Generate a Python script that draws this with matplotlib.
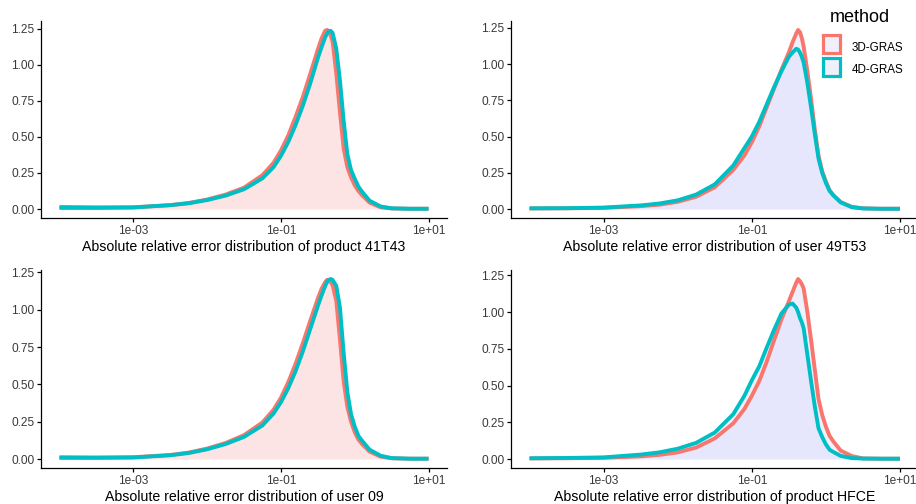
import numpy as np
import matplotlib
matplotlib.use("Agg")
import matplotlib.pyplot as plt
from matplotlib.patches import Rectangle
from matplotlib.ticker import FixedLocator, FixedFormatter, NullLocator

plt.rcParams['font.family'] = ['Liberation Sans', 'DejaVu Sans']

# ---------------- data (log10 of absolute relative error) ----------------
log_err = [-4.0, -3.5, -3.0, -2.5, -2.25, -2.0, -1.75, -1.5, -1.25, -1.1, -1.0,
           -0.9, -0.8, -0.7, -0.6, -0.5, -0.45, -0.4, -0.375, -0.35, -0.325,
           -0.3, -0.25, -0.2, -0.15, -0.1, -0.05, 0.0, 0.05, 0.1, 0.2, 0.35,
           0.5, 0.75, 1.0]

methods = ["3D-GRAS", "4D-GRAS"]

titles = ["Absolute relative error distribution of product 41T43",
          "Absolute relative error distribution of user 49T53",
          "Absolute relative error distribution of user 09",
          "Absolute relative error distribution of product HFCE"]

# product 41T43
p41_3d = [0.015, 0.012, 0.012, 0.027, 0.042, 0.066, 0.10, 0.148, 0.235, 0.32, 0.405,
          0.51, 0.64, 0.78, 0.94, 1.105, 1.18, 1.235, 1.24, 1.23, 1.20,
          1.16, 0.94, 0.67, 0.42, 0.29, 0.22, 0.165, 0.125, 0.095, 0.045, 0.012,
          0.004, 0.002, 0.002]
p41_4d = [0.008, 0.008, 0.011, 0.027, 0.040, 0.062, 0.093, 0.137, 0.213, 0.29, 0.368,
          0.465, 0.584, 0.72, 0.874, 1.045, 1.12, 1.19, 1.215, 1.232, 1.233,
          1.22, 1.11, 0.89, 0.61, 0.38, 0.27, 0.21, 0.155, 0.12, 0.058, 0.018,
          0.005, 0.002, 0.002]

# user 49T53
u49_3d = [0.004, 0.005, 0.008, 0.02, 0.03, 0.05, 0.085, 0.15, 0.27, 0.37, 0.46,
          0.57, 0.70, 0.83, 0.96, 1.08, 1.15, 1.21, 1.235, 1.22, 1.18,
          1.12, 0.95, 0.76, 0.55, 0.37, 0.26, 0.19, 0.13, 0.095, 0.048, 0.015,
          0.005, 0.002, 0.002]
u49_4d = [0.005, 0.006, 0.01, 0.025, 0.038, 0.06, 0.10, 0.17, 0.30, 0.42, 0.50,
          0.60, 0.72, 0.84, 0.95, 1.05, 1.08, 1.105, 1.10, 1.08, 1.05,
          1.01, 0.87, 0.70, 0.52, 0.35, 0.25, 0.18, 0.125, 0.095, 0.046, 0.013,
          0.004, 0.002, 0.002]

# user 09
u09_3d = [0.012, 0.01, 0.012, 0.027, 0.043, 0.07, 0.107, 0.16, 0.245, 0.33, 0.41,
          0.515, 0.64, 0.78, 0.93, 1.075, 1.14, 1.185, 1.20, 1.198, 1.185,
          1.165, 1.06, 0.80, 0.52, 0.35, 0.25, 0.18, 0.13, 0.10, 0.05, 0.016,
          0.005, 0.002, 0.002]
u09_4d = [0.008, 0.008, 0.01, 0.025, 0.04, 0.065, 0.10, 0.148, 0.225, 0.305, 0.38,
          0.475, 0.59, 0.725, 0.875, 1.025, 1.095, 1.16, 1.185, 1.20, 1.206,
          1.20, 1.16, 1.015, 0.71, 0.45, 0.30, 0.217, 0.155, 0.122, 0.063, 0.022,
          0.006, 0.002, 0.002]

# product HFCE
hf_3d = [0.004, 0.005, 0.008, 0.018, 0.028, 0.045, 0.078, 0.14, 0.243, 0.34, 0.43,
         0.53, 0.66, 0.807, 0.95, 1.073, 1.137, 1.20, 1.225, 1.21, 1.19,
         1.16, 1.0, 0.81, 0.61, 0.41, 0.30, 0.22, 0.157, 0.12, 0.057, 0.02,
         0.004, 0.002, 0.002]
hf_4d = [0.005, 0.007, 0.011, 0.03, 0.045, 0.07, 0.11, 0.18, 0.305, 0.43, 0.535,
         0.63, 0.756, 0.878, 0.99, 1.05, 1.058, 1.03, 1.0, 0.96, 0.93,
         0.89, 0.71, 0.53, 0.36, 0.21, 0.15, 0.10, 0.063, 0.048, 0.021, 0.006,
         0.003, 0.002, 0.002]

panel_data = [(p41_3d, p41_4d), (u49_3d, u49_4d), (u09_3d, u09_4d), (hf_3d, hf_4d)]

x_tick_vals = [1e-3, 1e-1, 1e1]
x_tick_labels = ["1e-03", "1e-01", "1e+01"]
y_tick_vals = [0.0, 0.25, 0.5, 0.75, 1.0, 1.25]
y_tick_labels = ["0.00", "0.25", "0.50", "0.75", "1.00", "1.25"]

# ---------------- style ----------------
W, H = 916, 504
line_cols = {"3D-GRAS": "#F8766D", "4D-GRAS": "#00BFC4"}
pink = (251/255, 208/255, 208/255)
lav = (212/255, 212/255, 250/255)
fill_cols = [pink, lav, pink, lav]
fill_alpha = 0.33
text_col = "#3A3A3A"

# axes rectangles in pixels: left, top, right, bottom
rects = [(41, 21, 447, 218), (511, 21, 918.5, 218),
         (41, 270, 447, 468), (511, 270, 918.5, 468)]

fig = plt.figure(figsize=(W/100, H/100), dpi=100)
fig.patch.set_facecolor("white")

x_vals = np.power(10.0, np.array(log_err))

for i, (l, t, r, b) in enumerate(rects):
    ax = fig.add_axes([l/W, 1 - b/H, (r-l)/W, (b-t)/H])
    series = panel_data[i]
    for m, ys in zip(methods, series):
        ax.fill_between(x_vals, 0, ys, color=fill_cols[i], alpha=fill_alpha, lw=0, zorder=1)
    for m, ys in zip(methods, series):
        ax.plot(x_vals, ys, color=line_cols[m], lw=2.8, solid_capstyle='butt',
                solid_joinstyle='round', zorder=3)
    ax.set_xscale('log')
    ax.set_xlim(10**-4.25, 10**1.25)
    M = max(max(series[0]), max(series[1]))
    ax.set_ylim(-0.05*M, 1.05*M)
    ax.xaxis.set_major_locator(FixedLocator(x_tick_vals))
    ax.xaxis.set_major_formatter(FixedFormatter(x_tick_labels))
    ax.xaxis.set_minor_locator(NullLocator())
    ax.yaxis.set_major_locator(FixedLocator(y_tick_vals))
    ax.yaxis.set_major_formatter(FixedFormatter(y_tick_labels))
    for s in ['top', 'right']:
        ax.spines[s].set_visible(False)
    for s in ['left', 'bottom']:
        ax.spines[s].set_color('black')
        ax.spines[s].set_linewidth(0.9)
    ax.tick_params(axis='both', which='major', direction='out', length=2.6, width=0.9,
                   color='black', labelcolor=text_col, labelsize=8.6, pad=2.2)
    ax.set_xlabel(titles[i], fontsize=10.2, color='black', labelpad=2.5)
    ax.set_facecolor('none')

# ---------------- legend ----------------
fig.text(830/W, 1 - 18/H, "method", fontsize=13, color='black', ha='left', va='center')
key_rows = [(35, 53, 48), (58, 76, 70)]
for m, (kt, kb, ty) in zip(methods, key_rows):
    fig.patches.append(Rectangle((823/W, 1 - kb/H), 17/W, (kb-kt)/H,
                                 transform=fig.transFigure, facecolor=(240/255, 240/255, 250/255),
                                 edgecolor=line_cols[m], linewidth=2.3))
    fig.text(852/W, 1 - ty/H, m, fontsize=8.4, color='black', ha='left', va='center')

fig.savefig("out.png", dpi=100)
